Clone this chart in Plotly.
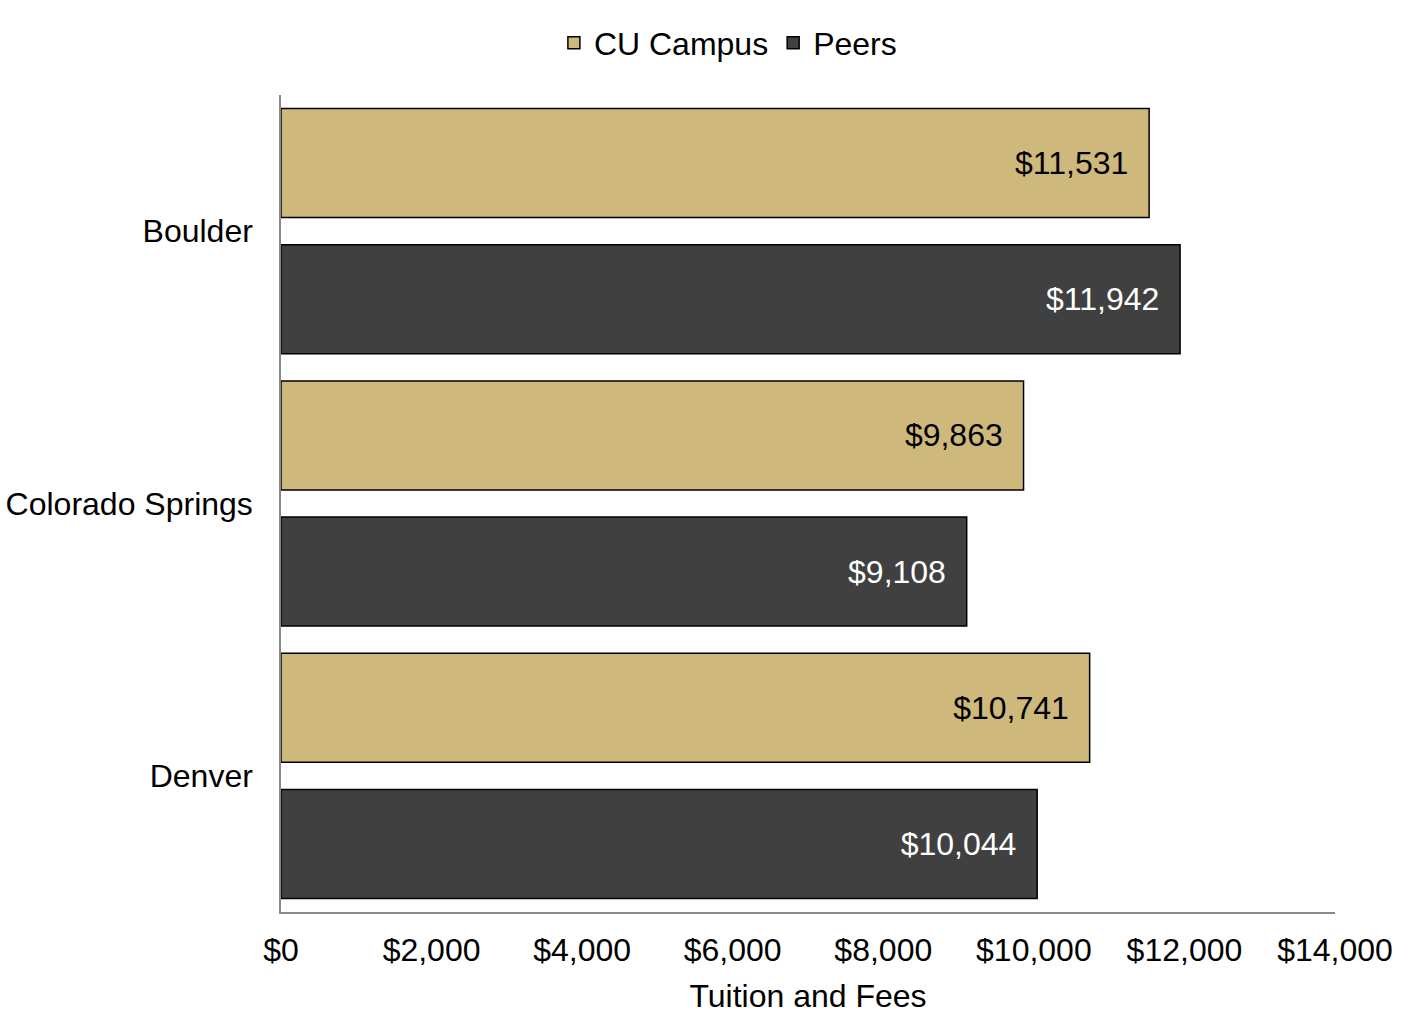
import plotly.graph_objects as go

campuses = ["Boulder", "Colorado Springs", "Denver"]
cu_campus = [11531, 9863, 10741]
peers = [11942, 9108, 10044]
x_ticks = [0, 2000, 4000, 6000, 8000, 10000, 12000, 14000]
x_tick_labels = ["$0", "$2,000", "$4,000", "$6,000", "$8,000", "$10,000", "$12,000", "$14,000"]

FONT = "Liberation Sans, Arial, sans-serif"
FS = 32
PAD = "\u00a0\u00a0"

fig = go.Figure()
fig.add_trace(go.Bar(
    name="CU Campus", y=campuses, x=cu_campus, orientation="h",
    marker=dict(color="#CFB87C", line=dict(color="#000000", width=1.5)),
    text=[f"${v:,}" + PAD for v in cu_campus], textposition="inside",
    insidetextanchor="end", textangle=0,
    textfont=dict(family=FONT, size=FS, color="#000000"),
    hoverinfo="x+y",
))
fig.add_trace(go.Bar(
    name="Peers", y=campuses, x=peers, orientation="h",
    marker=dict(color="#404040", line=dict(color="#000000", width=1.5)),
    text=[f"${v:,}" + PAD for v in peers], textposition="inside",
    insidetextanchor="end", textangle=0,
    textfont=dict(family=FONT, size=FS, color="#FFFFFF"),
    hoverinfo="x+y",
))

fig.update_layout(
    width=1404, height=1017,
    margin=dict(l=281, r=69, t=95, b=105, autoexpand=False),
    paper_bgcolor="white", plot_bgcolor="white",
    barmode="group", bargap=0.0, bargroupgap=0.2,
    font=dict(family=FONT, size=FS, color="#000000"),
    legend=dict(orientation="h", x=0.424, xanchor="center",
                y=1 - 43 / 1017, yanchor="middle", yref="container",
                font=dict(family=FONT, size=FS), traceorder="normal",
                bgcolor="rgba(0,0,0,0)"),
    xaxis=dict(range=[0, 14000], tickvals=x_ticks, ticktext=x_tick_labels,
               showgrid=False, zeroline=False, showline=True, linecolor="#898989",
               linewidth=1.5, ticks="", ticklabelstandoff=9,
               title=dict(text="Tuition and Fees", standoff=17,
                          font=dict(family=FONT, size=FS))),
    yaxis=dict(autorange="reversed", showgrid=False, zeroline=False, showline=True,
               linecolor="#898989", linewidth=1.5, ticks="", ticklabelstandoff=20),
)

fig.write_html("out.html",
               config={"displayModeBar": False},
               post_script="document.body.style.margin='0px';document.body.style.overflow='hidden';")
